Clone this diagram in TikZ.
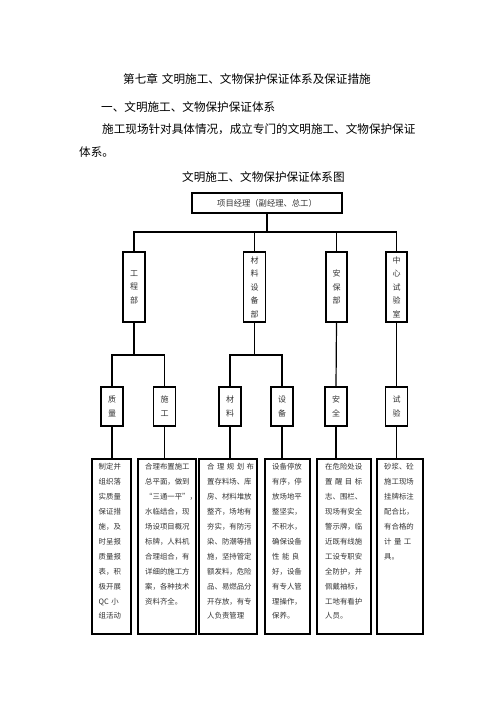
\documentclass[tikz,border=0pt]{standalone}
\usepackage{fontspec}
\setmainfont{Noto Sans CJK SC}
\newcommand\spr[2]{\makebox[#1][s]{#2}}
\begin{document}
\begin{tikzpicture}[x=1pt,y=-1pt,
  box/.style={draw, line width=1.2pt, inner sep=0pt},
  headtext/.style={anchor=west, inner sep=0pt, font=\fontsize{11.6}{14}\selectfont},
  topbox/.style={box, minimum width=150pt, minimum height=20pt, font=\fontsize{8.3}{10}\selectfont, text=black!80},
  dept/.style={box, minimum width=22pt, minimum height=70pt, align=center, font=\fontsize{8}{13.5}\selectfont, text=black!80},
  sub/.style={box, minimum width=22pt, minimum height=39pt, align=center, font=\fontsize{8}{14}\selectfont, text=black!80},
  descbox/.style={box, minimum height=175pt},
  desctext/.style={anchor=north west, inner sep=0pt, align=left, font=\fontsize{7.4}{14.9}\selectfont, text=black!80},
  conn/.style={line width=1.2pt}
]
\fill[white] (0,0) rectangle (496,702);
\useasboundingbox (0,0) rectangle (496,702);

% headings
\node[headtext] (h1) at (123,79) {第七章\hspace{4pt}文明施工、文物保护保证体系及保证措施};
\node[headtext] (h2) at (101,107) {一、文明施工、文物保护保证体系};
\node[headtext] (h3) at (102,129) {施工现场针对具体情况，成立专门的文明施工、文物保护保证};
\node[headtext] (h4) at (79,152) {体系。};
\node[headtext] (h5) at (182,177) {文明施工、文物保护保证体系图};

% top
\node[topbox] (top) at (267,203) {项目经理（副经理、总工）};

% departments
\node[dept] (d1) at (134,287) {工\\程\\部};
\node[dept] (d2) at (254.5,287) {材\\料\\设\\备\\部};
\node[dept, minimum width=21pt] (d3) at (336.5,287) {安\\保\\部};
\node[dept, minimum width=21pt] (d4) at (396.5,287) {中\\心\\试\\验\\室};

\coordinate (bus) at (267,232);
\draw[conn] (top.south) -- (bus);
\draw[conn] (d1.north) |- (bus) -| (d4.north);
\draw[conn] (d2.north) -- (d2.north |- bus);
\draw[conn] (d3.north) -- (d3.north |- bus);

% sub units
\node[sub] (s1) at (112,406.5) {质\\量};
\node[sub] (s2) at (164.5,406.5) {施\\工};
\node[sub] (s3) at (230,406.5) {材\\料};
\node[sub] (s4) at (282,406.5) {设\\备};
\node[sub] (s5) at (336,406.5) {安\\全};
\node[sub] (s6) at (396.5,406.5) {试\\验};

\coordinate (j1) at (134,355);
\coordinate (j2) at (254.5,355);
\draw[conn] (d1.south) -- (j1);
\draw[conn] (s1.north) |- (j1) -| (s2.north);
\draw[conn] (d2.south) -- (j2);
\draw[conn] (s3.north) |- (j2) -| (s4.north);
\draw[conn] (d3.south) -- (s5.north);
\draw[conn] (d4.south) -- (s6.north);

% description boxes
\node[descbox, minimum width=39pt] (b1) at (111.5,546.5) {};
\node[descbox, minimum width=58pt] (b2) at (167,546.5) {};
\node[descbox, minimum width=58pt] (b3) at (228,546.5) {};
\node[descbox, minimum width=45pt] (b4) at (287.5,546.5) {};
\node[descbox, minimum width=54pt] (b5) at (344,546.5) {};
\node[descbox, minimum width=46pt] (b6) at (400,546.5) {};

\foreach \i in {1,...,6} {
  \draw[conn] (s\i.south) -- (s\i.south |- b\i.north);
}

\node[desctext, text width=23pt] (t1) at (98.5,463.5) {制定并\\组织落\\实质量\\保证措\\施，及\\时呈报\\质量报\\表，积\\极开展\\QC 小\\组活动};
\node[desctext, text width=45pt] (t2) at (145,463.5) {合理布置施工\\总平面，做到\\“三通一平”，\\水临结合，现\\场设项目概况\\标牌，人料机\\合理组合，有\\详细的施工方\\案，各种技术\\资料齐全。};
\node[desctext, text width=45pt] (t3) at (207,463.5) {\spr{44.4pt}{合 理 规 划 布}\\置存料场、库\\房、材料堆放\\整齐，场地有\\夯实，有防污\\染、防潮等措\\施，坚持管定\\额发料，危险\\品、易燃品分\\开存放，有专\\人负责管理};
\node[desctext, text width=37pt] (t4) at (272,463.5) {设备停放\\有序，停\\放场地平\\整坚实，\\不积水，\\确保设备\\\spr{37pt}{性 能 良}\\好，设备\\有专人管\\理操作，\\保养。};
\node[desctext, text width=38pt] (t5) at (325,463.5) {在危险处设\\\spr{37pt}{置 醒 目 标}\\志、围栏、\\现场有安全\\警示牌，临\\近既有线施\\工设专职安\\全防护，并\\佩戴袖标，\\工地有看护\\人员。};
\node[desctext, text width=31pt] (t6) at (384,463.5) {砂浆、砼\\施工现场\\挂牌标注\\配合比，\\有合格的\\\spr{29.6pt}{计 量 工}\\具。};
\end{tikzpicture}
\end{document}
